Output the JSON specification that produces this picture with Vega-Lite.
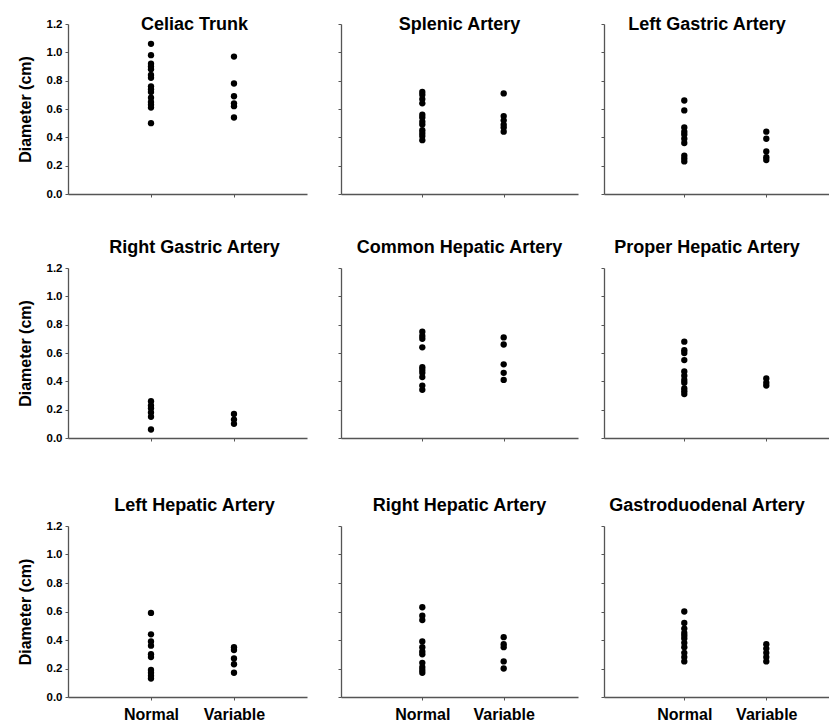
{
  "$schema": "https://vega.github.io/schema/vega-lite/v6.json",
  "padding": {"left": 17, "top": 15, "right": 0, "bottom": 0},
  "background": "white",
  "data": {"values": [
    {"artery":"Celiac Trunk","group":"Normal","diameter":1.06},
    {"artery":"Celiac Trunk","group":"Normal","diameter":0.98},
    {"artery":"Celiac Trunk","group":"Normal","diameter":0.92},
    {"artery":"Celiac Trunk","group":"Normal","diameter":0.90},
    {"artery":"Celiac Trunk","group":"Normal","diameter":0.88},
    {"artery":"Celiac Trunk","group":"Normal","diameter":0.84},
    {"artery":"Celiac Trunk","group":"Normal","diameter":0.82},
    {"artery":"Celiac Trunk","group":"Normal","diameter":0.76},
    {"artery":"Celiac Trunk","group":"Normal","diameter":0.74},
    {"artery":"Celiac Trunk","group":"Normal","diameter":0.72},
    {"artery":"Celiac Trunk","group":"Normal","diameter":0.68},
    {"artery":"Celiac Trunk","group":"Normal","diameter":0.65},
    {"artery":"Celiac Trunk","group":"Normal","diameter":0.63},
    {"artery":"Celiac Trunk","group":"Normal","diameter":0.61},
    {"artery":"Celiac Trunk","group":"Normal","diameter":0.50},
    {"artery":"Celiac Trunk","group":"Variable","diameter":0.97},
    {"artery":"Celiac Trunk","group":"Variable","diameter":0.78},
    {"artery":"Celiac Trunk","group":"Variable","diameter":0.69},
    {"artery":"Celiac Trunk","group":"Variable","diameter":0.64},
    {"artery":"Celiac Trunk","group":"Variable","diameter":0.62},
    {"artery":"Celiac Trunk","group":"Variable","diameter":0.54},
    {"artery":"Splenic Artery","group":"Normal","diameter":0.72},
    {"artery":"Splenic Artery","group":"Normal","diameter":0.70},
    {"artery":"Splenic Artery","group":"Normal","diameter":0.67},
    {"artery":"Splenic Artery","group":"Normal","diameter":0.64},
    {"artery":"Splenic Artery","group":"Normal","diameter":0.56},
    {"artery":"Splenic Artery","group":"Normal","diameter":0.54},
    {"artery":"Splenic Artery","group":"Normal","diameter":0.51},
    {"artery":"Splenic Artery","group":"Normal","diameter":0.49},
    {"artery":"Splenic Artery","group":"Normal","diameter":0.45},
    {"artery":"Splenic Artery","group":"Normal","diameter":0.43},
    {"artery":"Splenic Artery","group":"Normal","diameter":0.41},
    {"artery":"Splenic Artery","group":"Normal","diameter":0.38},
    {"artery":"Splenic Artery","group":"Variable","diameter":0.71},
    {"artery":"Splenic Artery","group":"Variable","diameter":0.55},
    {"artery":"Splenic Artery","group":"Variable","diameter":0.52},
    {"artery":"Splenic Artery","group":"Variable","diameter":0.49},
    {"artery":"Splenic Artery","group":"Variable","diameter":0.47},
    {"artery":"Splenic Artery","group":"Variable","diameter":0.44},
    {"artery":"Left Gastric Artery","group":"Normal","diameter":0.66},
    {"artery":"Left Gastric Artery","group":"Normal","diameter":0.59},
    {"artery":"Left Gastric Artery","group":"Normal","diameter":0.47},
    {"artery":"Left Gastric Artery","group":"Normal","diameter":0.44},
    {"artery":"Left Gastric Artery","group":"Normal","diameter":0.42},
    {"artery":"Left Gastric Artery","group":"Normal","diameter":0.39},
    {"artery":"Left Gastric Artery","group":"Normal","diameter":0.36},
    {"artery":"Left Gastric Artery","group":"Normal","diameter":0.27},
    {"artery":"Left Gastric Artery","group":"Normal","diameter":0.25},
    {"artery":"Left Gastric Artery","group":"Normal","diameter":0.23},
    {"artery":"Left Gastric Artery","group":"Variable","diameter":0.44},
    {"artery":"Left Gastric Artery","group":"Variable","diameter":0.39},
    {"artery":"Left Gastric Artery","group":"Variable","diameter":0.30},
    {"artery":"Left Gastric Artery","group":"Variable","diameter":0.26},
    {"artery":"Left Gastric Artery","group":"Variable","diameter":0.24},
    {"artery":"Right Gastric Artery","group":"Normal","diameter":0.26},
    {"artery":"Right Gastric Artery","group":"Normal","diameter":0.23},
    {"artery":"Right Gastric Artery","group":"Normal","diameter":0.21},
    {"artery":"Right Gastric Artery","group":"Normal","diameter":0.18},
    {"artery":"Right Gastric Artery","group":"Normal","diameter":0.15},
    {"artery":"Right Gastric Artery","group":"Normal","diameter":0.06},
    {"artery":"Right Gastric Artery","group":"Variable","diameter":0.17},
    {"artery":"Right Gastric Artery","group":"Variable","diameter":0.13},
    {"artery":"Right Gastric Artery","group":"Variable","diameter":0.10},
    {"artery":"Common Hepatic Artery","group":"Normal","diameter":0.75},
    {"artery":"Common Hepatic Artery","group":"Normal","diameter":0.72},
    {"artery":"Common Hepatic Artery","group":"Normal","diameter":0.70},
    {"artery":"Common Hepatic Artery","group":"Normal","diameter":0.64},
    {"artery":"Common Hepatic Artery","group":"Normal","diameter":0.50},
    {"artery":"Common Hepatic Artery","group":"Normal","diameter":0.48},
    {"artery":"Common Hepatic Artery","group":"Normal","diameter":0.46},
    {"artery":"Common Hepatic Artery","group":"Normal","diameter":0.43},
    {"artery":"Common Hepatic Artery","group":"Normal","diameter":0.37},
    {"artery":"Common Hepatic Artery","group":"Normal","diameter":0.34},
    {"artery":"Common Hepatic Artery","group":"Variable","diameter":0.71},
    {"artery":"Common Hepatic Artery","group":"Variable","diameter":0.66},
    {"artery":"Common Hepatic Artery","group":"Variable","diameter":0.52},
    {"artery":"Common Hepatic Artery","group":"Variable","diameter":0.46},
    {"artery":"Common Hepatic Artery","group":"Variable","diameter":0.41},
    {"artery":"Proper Hepatic Artery","group":"Normal","diameter":0.68},
    {"artery":"Proper Hepatic Artery","group":"Normal","diameter":0.62},
    {"artery":"Proper Hepatic Artery","group":"Normal","diameter":0.60},
    {"artery":"Proper Hepatic Artery","group":"Normal","diameter":0.55},
    {"artery":"Proper Hepatic Artery","group":"Normal","diameter":0.47},
    {"artery":"Proper Hepatic Artery","group":"Normal","diameter":0.44},
    {"artery":"Proper Hepatic Artery","group":"Normal","diameter":0.41},
    {"artery":"Proper Hepatic Artery","group":"Normal","diameter":0.39},
    {"artery":"Proper Hepatic Artery","group":"Normal","diameter":0.35},
    {"artery":"Proper Hepatic Artery","group":"Normal","diameter":0.33},
    {"artery":"Proper Hepatic Artery","group":"Normal","diameter":0.31},
    {"artery":"Proper Hepatic Artery","group":"Variable","diameter":0.42},
    {"artery":"Proper Hepatic Artery","group":"Variable","diameter":0.39},
    {"artery":"Proper Hepatic Artery","group":"Variable","diameter":0.37},
    {"artery":"Left Hepatic Artery","group":"Normal","diameter":0.59},
    {"artery":"Left Hepatic Artery","group":"Normal","diameter":0.44},
    {"artery":"Left Hepatic Artery","group":"Normal","diameter":0.39},
    {"artery":"Left Hepatic Artery","group":"Normal","diameter":0.36},
    {"artery":"Left Hepatic Artery","group":"Normal","diameter":0.30},
    {"artery":"Left Hepatic Artery","group":"Normal","diameter":0.28},
    {"artery":"Left Hepatic Artery","group":"Normal","diameter":0.19},
    {"artery":"Left Hepatic Artery","group":"Normal","diameter":0.17},
    {"artery":"Left Hepatic Artery","group":"Normal","diameter":0.15},
    {"artery":"Left Hepatic Artery","group":"Normal","diameter":0.13},
    {"artery":"Left Hepatic Artery","group":"Variable","diameter":0.35},
    {"artery":"Left Hepatic Artery","group":"Variable","diameter":0.33},
    {"artery":"Left Hepatic Artery","group":"Variable","diameter":0.27},
    {"artery":"Left Hepatic Artery","group":"Variable","diameter":0.23},
    {"artery":"Left Hepatic Artery","group":"Variable","diameter":0.17},
    {"artery":"Right Hepatic Artery","group":"Normal","diameter":0.63},
    {"artery":"Right Hepatic Artery","group":"Normal","diameter":0.57},
    {"artery":"Right Hepatic Artery","group":"Normal","diameter":0.54},
    {"artery":"Right Hepatic Artery","group":"Normal","diameter":0.39},
    {"artery":"Right Hepatic Artery","group":"Normal","diameter":0.35},
    {"artery":"Right Hepatic Artery","group":"Normal","diameter":0.32},
    {"artery":"Right Hepatic Artery","group":"Normal","diameter":0.30},
    {"artery":"Right Hepatic Artery","group":"Normal","diameter":0.24},
    {"artery":"Right Hepatic Artery","group":"Normal","diameter":0.21},
    {"artery":"Right Hepatic Artery","group":"Normal","diameter":0.19},
    {"artery":"Right Hepatic Artery","group":"Normal","diameter":0.17},
    {"artery":"Right Hepatic Artery","group":"Variable","diameter":0.42},
    {"artery":"Right Hepatic Artery","group":"Variable","diameter":0.37},
    {"artery":"Right Hepatic Artery","group":"Variable","diameter":0.35},
    {"artery":"Right Hepatic Artery","group":"Variable","diameter":0.25},
    {"artery":"Right Hepatic Artery","group":"Variable","diameter":0.20},
    {"artery":"Gastroduodenal Artery","group":"Normal","diameter":0.60},
    {"artery":"Gastroduodenal Artery","group":"Normal","diameter":0.52},
    {"artery":"Gastroduodenal Artery","group":"Normal","diameter":0.48},
    {"artery":"Gastroduodenal Artery","group":"Normal","diameter":0.45},
    {"artery":"Gastroduodenal Artery","group":"Normal","diameter":0.43},
    {"artery":"Gastroduodenal Artery","group":"Normal","diameter":0.41},
    {"artery":"Gastroduodenal Artery","group":"Normal","diameter":0.38},
    {"artery":"Gastroduodenal Artery","group":"Normal","diameter":0.35},
    {"artery":"Gastroduodenal Artery","group":"Normal","diameter":0.31},
    {"artery":"Gastroduodenal Artery","group":"Normal","diameter":0.28},
    {"artery":"Gastroduodenal Artery","group":"Normal","diameter":0.25},
    {"artery":"Gastroduodenal Artery","group":"Variable","diameter":0.37},
    {"artery":"Gastroduodenal Artery","group":"Variable","diameter":0.34},
    {"artery":"Gastroduodenal Artery","group":"Variable","diameter":0.31},
    {"artery":"Gastroduodenal Artery","group":"Variable","diameter":0.28},
    {"artery":"Gastroduodenal Artery","group":"Variable","diameter":0.25}
  ]},
  "spacing": 0,
  "vconcat": [
    {"spacing": 0, "hconcat": [
      {"title": {"text": "Celiac Trunk", "offset": -16, "dx": 7, "frame": "group"},
       "width": 239, "height": 170,
       "transform": [{"filter": "datum.artery === 'Celiac Trunk'"}],
       "mark": {"type": "circle", "size": 40, "color": "black", "opacity": 1},
       "encoding": {
         "x": {"field": "group", "type": "nominal", "scale": {"type": "point", "domain": ["Normal", "Variable"], "padding": 0.94, "align": 0.532}, "axis": {"title": null, "labels": false, "minExtent": 44}},
         "y": {"field": "diameter", "type": "quantitative", "scale": {"domain": [0, 1.2], "nice": false}, "axis": {"title": "Diameter (cm)", "values": [0, 0.2, 0.4, 0.6, 0.8, 1.0, 1.2], "format": ".1f"}}
       }},
      {"title": {"text": "Splenic Artery", "offset": -10, "frame": "group"},
       "width": 237, "height": 170,
       "transform": [{"filter": "datum.artery === 'Splenic Artery'"}],
       "mark": {"type": "circle", "size": 40, "color": "black", "opacity": 1},
       "encoding": {
         "x": {"field": "group", "type": "nominal", "scale": {"type": "point", "domain": ["Normal", "Variable"], "padding": 0.956, "align": 0.5225}, "axis": {"title": null, "labels": false, "minExtent": 44}},
         "y": {"field": "diameter", "type": "quantitative", "scale": {"domain": [0, 1.2], "nice": false}, "axis": {"title": null, "labels": false, "values": [0, 0.2, 0.4, 0.6, 0.8, 1.0, 1.2], "minExtent": 34}}
       }},
      {"title": {"text": "Left Gastric Artery", "offset": -10, "dx": -10, "frame": "group"},
       "width": 226, "height": 170,
       "transform": [{"filter": "datum.artery === 'Left Gastric Artery'"}],
       "mark": {"type": "circle", "size": 40, "color": "black", "opacity": 1},
       "encoding": {
         "x": {"field": "group", "type": "nominal", "scale": {"type": "point", "domain": ["Normal", "Variable"], "padding": 0.878, "align": 0.5576}, "axis": {"title": null, "labels": false, "minExtent": 44}},
         "y": {"field": "diameter", "type": "quantitative", "scale": {"domain": [0, 1.2], "nice": false}, "axis": {"title": null, "labels": false, "values": [0, 0.2, 0.4, 0.6, 0.8, 1.0, 1.2], "minExtent": 26}}
       }}
    ]},
    {"spacing": 0, "hconcat": [
      {"title": {"text": "Right Gastric Artery", "offset": 5, "dx": 7, "frame": "group"},
       "width": 239, "height": 170,
       "transform": [{"filter": "datum.artery === 'Right Gastric Artery'"}],
       "mark": {"type": "circle", "size": 40, "color": "black", "opacity": 1},
       "encoding": {
         "x": {"field": "group", "type": "nominal", "scale": {"type": "point", "domain": ["Normal", "Variable"], "padding": 0.94, "align": 0.532}, "axis": {"title": null, "labels": false, "minExtent": 58}},
         "y": {"field": "diameter", "type": "quantitative", "scale": {"domain": [0, 1.2], "nice": false}, "axis": {"title": "Diameter (cm)", "values": [0, 0.2, 0.4, 0.6, 0.8, 1.0, 1.2], "format": ".1f"}}
       }},
      {"title": {"text": "Common Hepatic Artery", "offset": 11, "frame": "group"},
       "width": 237, "height": 170,
       "transform": [{"filter": "datum.artery === 'Common Hepatic Artery'"}],
       "mark": {"type": "circle", "size": 40, "color": "black", "opacity": 1},
       "encoding": {
         "x": {"field": "group", "type": "nominal", "scale": {"type": "point", "domain": ["Normal", "Variable"], "padding": 0.956, "align": 0.5225}, "axis": {"title": null, "labels": false, "minExtent": 58}},
         "y": {"field": "diameter", "type": "quantitative", "scale": {"domain": [0, 1.2], "nice": false}, "axis": {"title": null, "labels": false, "values": [0, 0.2, 0.4, 0.6, 0.8, 1.0, 1.2], "minExtent": 34}}
       }},
      {"title": {"text": "Proper Hepatic Artery", "offset": 11, "dx": -10, "frame": "group"},
       "width": 226, "height": 170,
       "transform": [{"filter": "datum.artery === 'Proper Hepatic Artery'"}],
       "mark": {"type": "circle", "size": 40, "color": "black", "opacity": 1},
       "encoding": {
         "x": {"field": "group", "type": "nominal", "scale": {"type": "point", "domain": ["Normal", "Variable"], "padding": 0.878, "align": 0.5576}, "axis": {"title": null, "labels": false, "minExtent": 58}},
         "y": {"field": "diameter", "type": "quantitative", "scale": {"domain": [0, 1.2], "nice": false}, "axis": {"title": null, "labels": false, "values": [0, 0.2, 0.4, 0.6, 0.8, 1.0, 1.2], "minExtent": 26}}
       }}
    ]},
    {"spacing": 0, "hconcat": [
      {"title": {"text": "Left Hepatic Artery", "offset": 5, "dx": 7, "frame": "group"},
       "width": 239, "height": 171,
       "transform": [{"filter": "datum.artery === 'Left Hepatic Artery'"}],
       "mark": {"type": "circle", "size": 40, "color": "black", "opacity": 1},
       "encoding": {
         "x": {"field": "group", "type": "nominal", "scale": {"type": "point", "domain": ["Normal", "Variable"], "padding": 0.94, "align": 0.532}, "axis": {"title": null, "labelPadding": 6}},
         "y": {"field": "diameter", "type": "quantitative", "scale": {"domain": [0, 1.2], "nice": false}, "axis": {"title": "Diameter (cm)", "values": [0, 0.2, 0.4, 0.6, 0.8, 1.0, 1.2], "format": ".1f"}}
       }},
      {"title": {"text": "Right Hepatic Artery", "offset": 11, "frame": "group"},
       "width": 237, "height": 171,
       "transform": [{"filter": "datum.artery === 'Right Hepatic Artery'"}],
       "mark": {"type": "circle", "size": 40, "color": "black", "opacity": 1},
       "encoding": {
         "x": {"field": "group", "type": "nominal", "scale": {"type": "point", "domain": ["Normal", "Variable"], "padding": 0.956, "align": 0.5225}, "axis": {"title": null, "labelPadding": 6}},
         "y": {"field": "diameter", "type": "quantitative", "scale": {"domain": [0, 1.2], "nice": false}, "axis": {"title": null, "labels": false, "values": [0, 0.2, 0.4, 0.6, 0.8, 1.0, 1.2], "minExtent": 34}}
       }},
      {"title": {"text": "Gastroduodenal Artery", "offset": 11, "dx": -10, "frame": "group"},
       "width": 226, "height": 171,
       "transform": [{"filter": "datum.artery === 'Gastroduodenal Artery'"}],
       "mark": {"type": "circle", "size": 40, "color": "black", "opacity": 1},
       "encoding": {
         "x": {"field": "group", "type": "nominal", "scale": {"type": "point", "domain": ["Normal", "Variable"], "padding": 0.878, "align": 0.5576}, "axis": {"title": null, "labelPadding": 6}},
         "y": {"field": "diameter", "type": "quantitative", "scale": {"domain": [0, 1.2], "nice": false}, "axis": {"title": null, "labels": false, "values": [0, 0.2, 0.4, 0.6, 0.8, 1.0, 1.2], "minExtent": 26}}
       }}
    ]}
  ],
  "config": {
    "view": {"stroke": null},
    "font": "Liberation Sans",
    "title": {"font": "Liberation Sans", "fontSize": 18, "fontWeight": "bold", "color": "black", "anchor": "middle", "frame": "group"},
    "axis": {
      "grid": false,
      "domainColor": "#555555",
      "domainWidth": 1.3,
      "tickColor": "#555555",
      "tickSize": 3,
      "labelFont": "Liberation Sans",
      "labelFontWeight": "bold",
      "labelColor": "black",
      "titleFont": "Liberation Sans",
      "titleFontWeight": "bold",
      "titleColor": "black"
    },
    "axisX": {"labelFontSize": 16, "labelAngle": 0},
    "axisY": {"labelFontSize": 11.5, "labelPadding": 3, "titleFontSize": 16, "titlePadding": 13}
  }
}
